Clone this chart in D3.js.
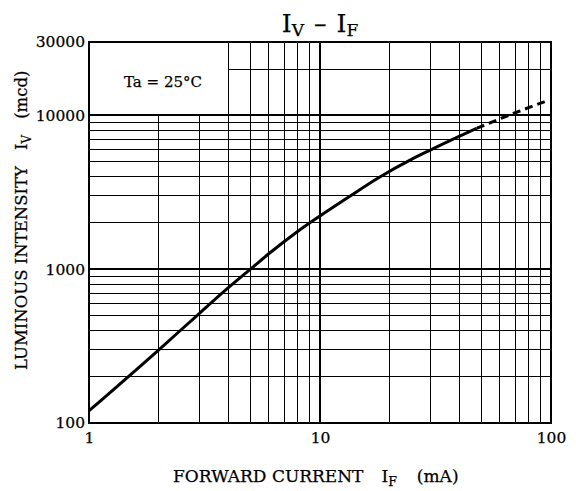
<!DOCTYPE html>
<html>
<head>
<meta charset="utf-8">
<script src="https://cdn.jsdelivr.net/npm/d3@7"></script>
<style>
  body { margin: 0; background: #fff; }
  text { font-family: "DejaVu Serif", serif; fill: #000; stroke: #000; stroke-width: 0.25px; }
</style>
</head>
<body>
<div id="chart"></div>
<script>
// forward current (mA) / luminous intensity (mcd)
var ifSolid = [1, 2, 3, 4, 5, 6, 8, 10, 13, 18, 25, 30, 40, 47.7];
var ivSolid = [120, 298, 515, 755, 1000, 1260, 1760, 2220, 2880, 3950, 5200, 5950, 7300, 8240];
var ifDashed = [47.7, 70, 94];
var ivDashed = [8240, 10400, 12280];

var xTicks = [1, 10, 100];
var yTicks = [100, 1000, 10000, 30000];
var xMinor = [2, 3, 4, 5, 6, 7, 8, 9, 20, 30, 40, 50, 60, 70, 80, 90];
var yMinor = [200, 300, 400, 500, 600, 700, 800, 900, 2000, 3000, 4000, 5000, 6000, 7000, 8000, 9000];

var margin = {top: 42, right: 25, bottom: 68, left: 89},
    width = 576 - margin.left - margin.right,
    height = 491 - margin.top - margin.bottom;

var svg = d3.select("#chart").append("svg")
    .attr("width", 576)
    .attr("height", 491)
  .append("g")
    .attr("transform", "translate(" + margin.left + "," + margin.top + ")");

var x = d3.scaleLog().domain([1, 100]).range([0, width]);
var y = d3.scaleLog().domain([100, 30000]).range([height, 0]);

var grid = svg.append("g").attr("stroke", "#000").attr("shape-rendering", "crispEdges");

// vertical grid: 2 and 3 stop at 10000 (label box above)
grid.selectAll(".vx").data(xMinor).enter().append("line")
    .attr("x1", function(d) { return x(d); })
    .attr("x2", function(d) { return x(d); })
    .attr("y1", height)
    .attr("y2", function(d) { return d < 4 ? y(10000) : 0; })
    .attr("stroke-width", 1);

grid.append("line")
    .attr("x1", x(10)).attr("x2", x(10))
    .attr("y1", height).attr("y2", 0)
    .attr("stroke-width", 2);

grid.selectAll(".hy").data(yMinor).enter().append("line")
    .attr("x1", 0).attr("x2", width)
    .attr("y1", function(d) { return y(d); })
    .attr("y2", function(d) { return y(d); })
    .attr("stroke-width", 1);

grid.selectAll(".hmaj").data([1000, 10000]).enter().append("line")
    .attr("x1", 0).attr("x2", width)
    .attr("y1", function(d) { return y(d); })
    .attr("y2", function(d) { return y(d); })
    .attr("stroke-width", 2);

grid.append("line")
    .attr("x1", x(4)).attr("x2", width)
    .attr("y1", y(20000)).attr("y2", y(20000))
    .attr("stroke-width", 1);

svg.append("rect")
    .attr("width", width).attr("height", height)
    .attr("fill", "none").attr("stroke", "#000").attr("stroke-width", 2);

// axes only for labels
var xAxis = svg.append("g")
    .attr("transform", "translate(0," + height + ")")
    .call(d3.axisBottom(x).tickValues(xTicks).tickSize(0).tickPadding(9).tickFormat(d3.format("d")));
var yAxis = svg.append("g")
    .call(d3.axisLeft(y).tickValues(yTicks).tickSize(0).tickPadding(4).tickFormat(d3.format("d")));
[xAxis, yAxis].forEach(function(a) {
  a.select(".domain").remove();
  a.selectAll("text").attr("font-family", "DejaVu Serif").attr("font-size", 15.5).attr("fill", "#000");
});

var line = d3.line()
    .x(function(d) { return x(d[0]); })
    .y(function(d) { return y(d[1]); })
    .curve(d3.curveMonotoneX);

svg.append("path")
    .datum(d3.zip(ifSolid, ivSolid))
    .attr("d", line)
    .attr("fill", "none").attr("stroke", "#000").attr("stroke-width", 3);

svg.append("path")
    .datum(d3.zip(ifDashed, ivDashed))
    .attr("d", line)
    .attr("fill", "none").attr("stroke", "#000").attr("stroke-width", 3)
    .attr("stroke-dasharray", "8,5");

svg.append("text")
    .attr("x", 163 - margin.left).attr("y", 87 - margin.top)
    .attr("text-anchor", "middle")
    .attr("font-size", 15)
    .text("Ta = 25°C");

// title
var title = svg.append("text")
    .attr("x", width / 2).attr("y", 32 - margin.top)
    .attr("text-anchor", "middle")
    .attr("font-size", 25);
title.append("tspan").text("I");
title.append("tspan").attr("font-size", 17).attr("dy", 4).text("V");
title.append("tspan").attr("dy", -4).attr("dx", 10).text("\u2013");
title.append("tspan").attr("dx", 10).text("I");
title.append("tspan").attr("font-size", 17).attr("dy", 4).text("F");

// x label
var xl = svg.append("text")
    .attr("x", 173 - margin.left).attr("y", 482 - margin.top)
    .attr("font-size", 17);
xl.append("tspan").text("FORWARD CURRENT");
xl.append("tspan").attr("dx", 18).text("I");
xl.append("tspan").attr("font-size", 12.5).attr("dy", 4).text("F");
xl.append("tspan").attr("dy", -4).attr("dx", 20).text("(mA)");

// y label
var yl = svg.append("text")
    .attr("transform", "translate(" + (27 - margin.left) + "," + (370 - margin.top) + ") rotate(-90)")
    .attr("font-size", 16.5);
yl.append("tspan").text("LUMINOUS INTENSITY");
yl.append("tspan").attr("dx", 16).text("I");
yl.append("tspan").attr("font-size", 12).attr("dy", 4).text("V");
yl.append("tspan").attr("dy", -4).attr("dx", 16).text("(mcd)");
</script>
</body>
</html>
